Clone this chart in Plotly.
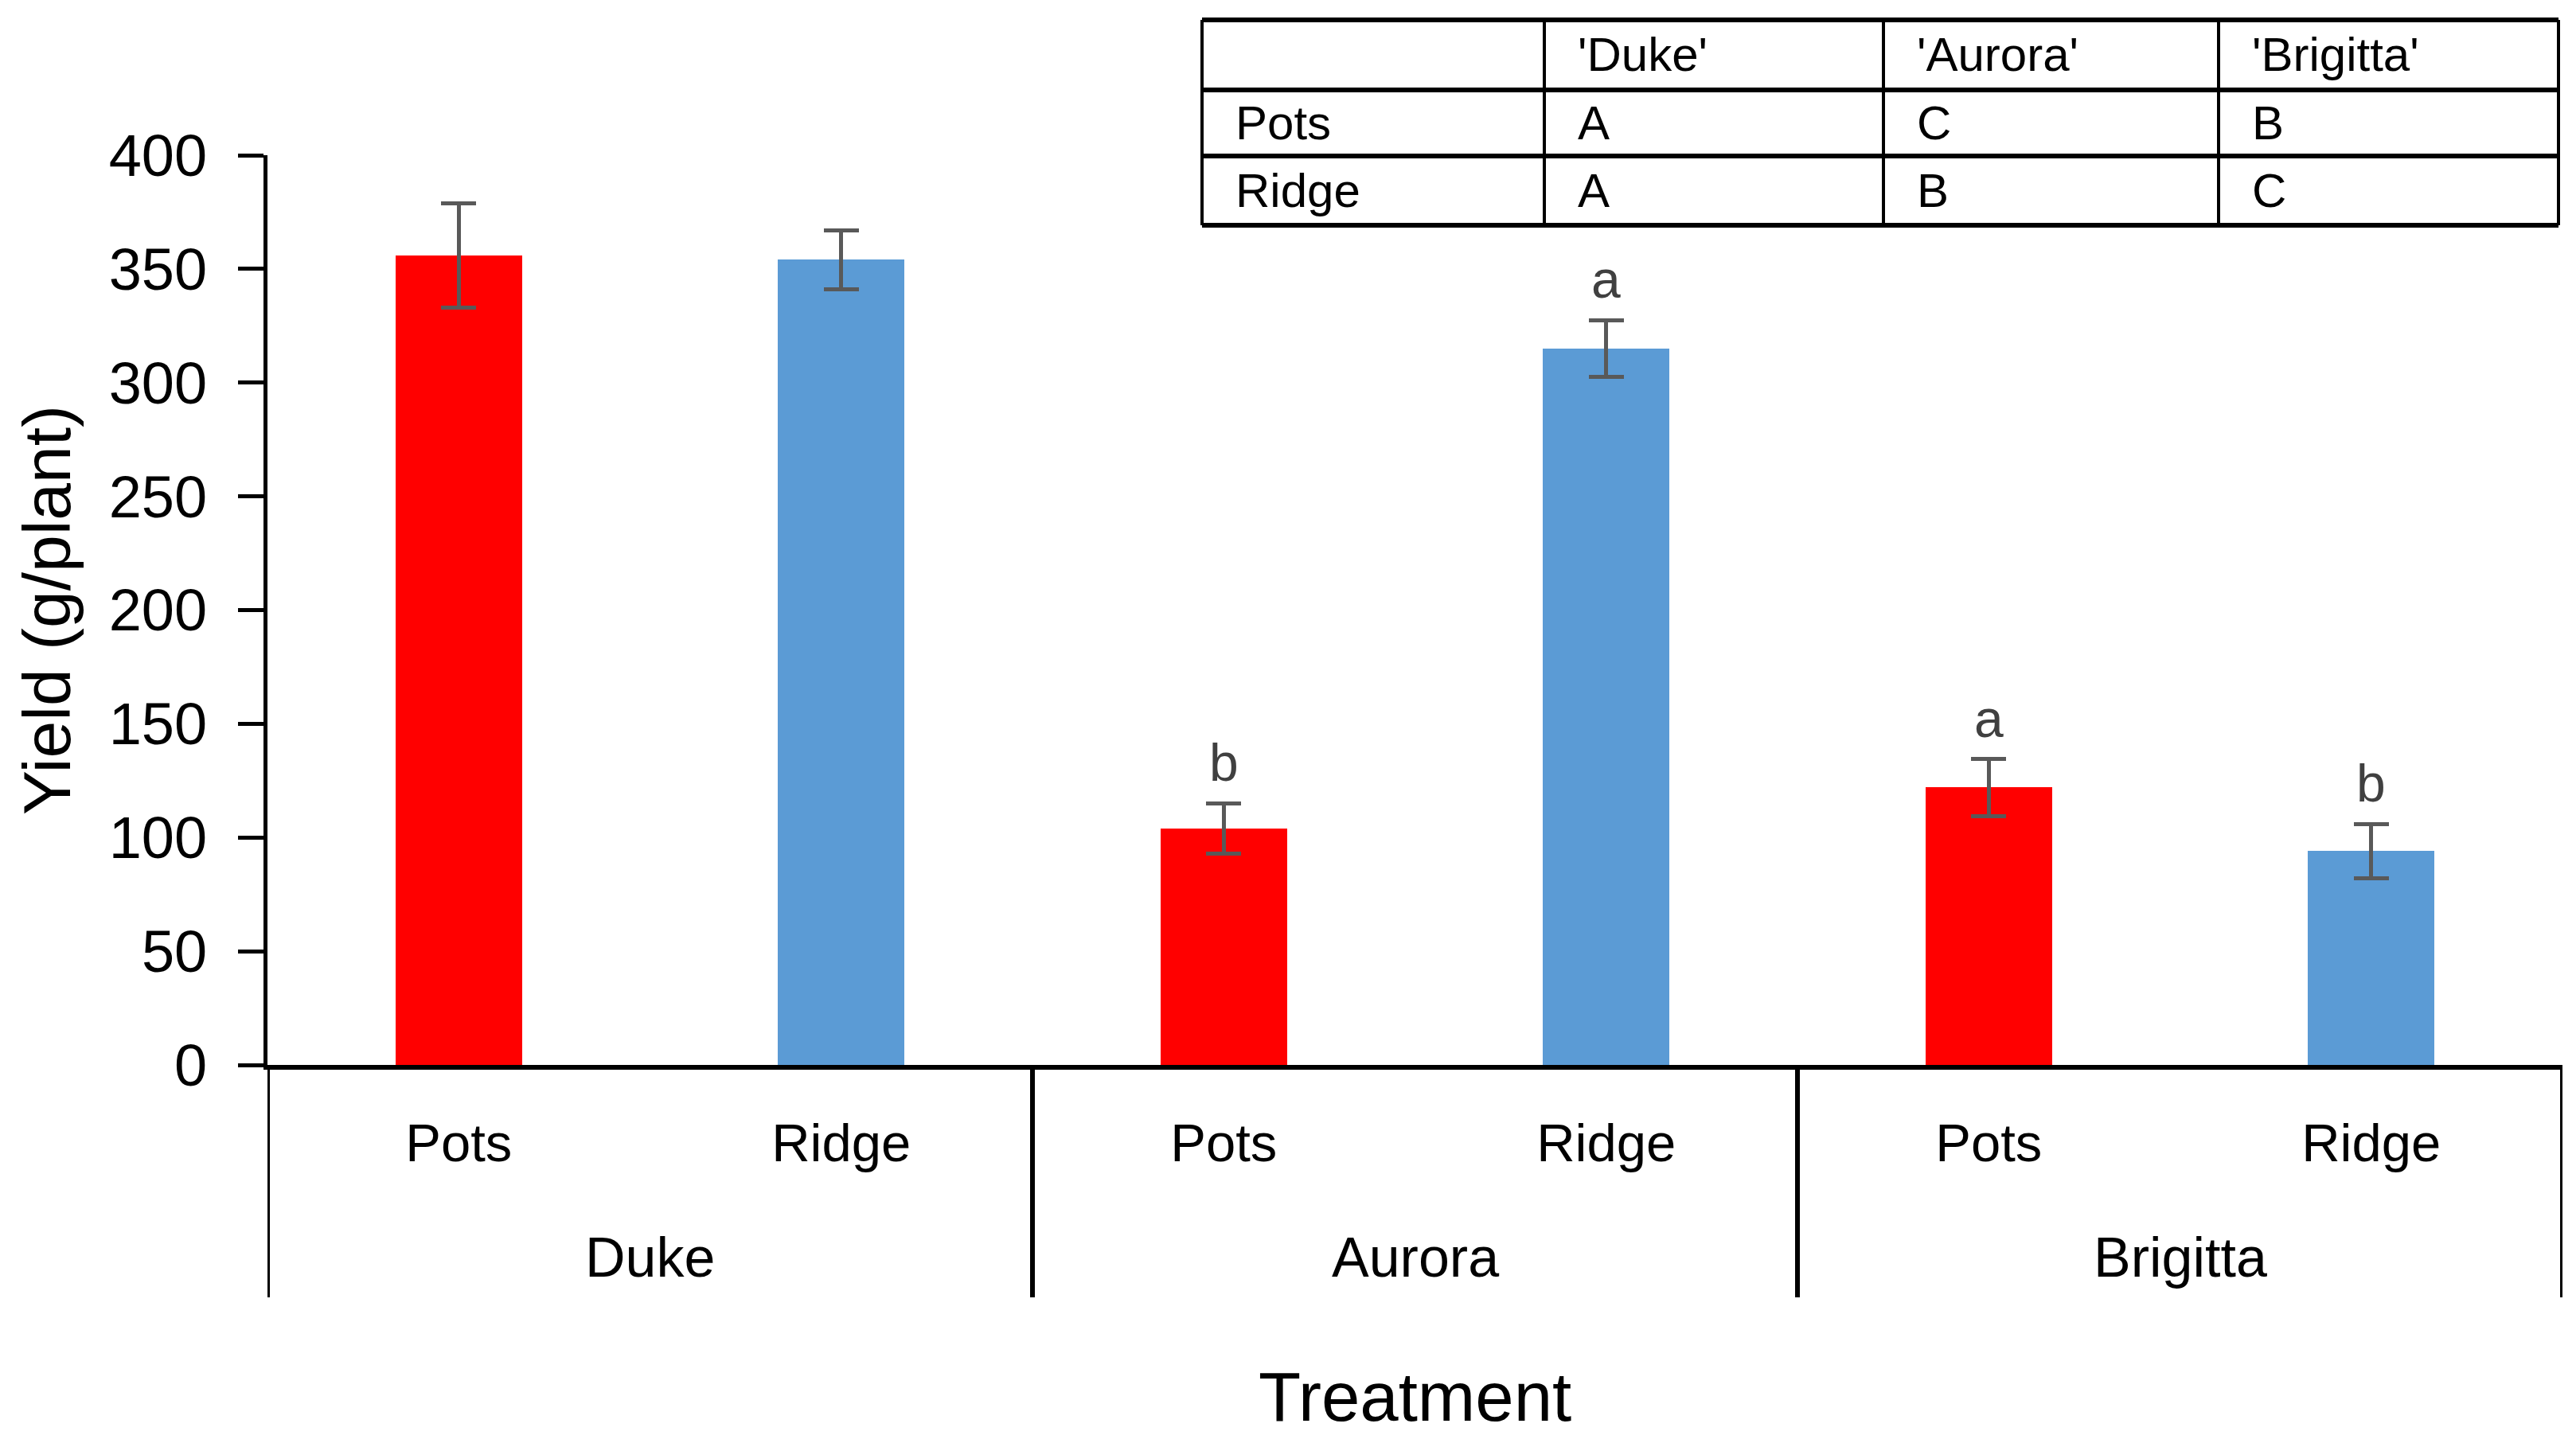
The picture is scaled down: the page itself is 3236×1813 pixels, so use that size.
import plotly.graph_objects as go

# ---- data ----
cultivars = ["Duke", "Aurora", "Brigitta"]
treatments = ["Pots", "Ridge"]
pots_yield = [356, 104, 122]
pots_err = [23, 11, 12.5]
ridge_yield = [354, 315, 94]
ridge_err = [13, 12.5, 12]
pots_letters = ["", "b", "a"]
ridge_letters = ["", "a", "b"]
y_ticks = [0, 50, 100, 150, 200, 250, 300, 350, 400]

table_header = ["", "'Duke'", "'Aurora'", "'Brigitta'"]
table_rows = ["Pots", "Ridge"]
table_letters = [["A", "C", "B"], ["A", "B", "C"]]

# ---- geometry (reference pixel space, page body has an 8px margin) ----
OFF = 8
W, H = 3236 - 2 * OFF, 1813 - 2 * OFF
AX_L, AX_R = 336 - OFF, 3219 - OFF     # plot area left/right in figure px
PL_T, PL_B = 20 - OFF, 1338 - OFF      # plot area top/bottom in figure px
ML, MR, MT, MB = AX_L, W - AX_R, PL_T, H - PL_B
PW = AX_R - AX_L
PH = PL_B - PL_T


def px_x(p):
    return (p - OFF - AX_L) / PW


def px_y(p):
    return (PL_B - (p - OFF)) / PH


FONT = "Liberation Sans, Arial, sans-serif"

n = len(cultivars)
pots_x = [2 * i for i in range(n)]
ridge_x = [2 * i + 1 for i in range(n)]
sub_vals = list(range(2 * n))
sub_text = [t for _ in cultivars for t in treatments]

fig = go.Figure()
fig.add_trace(go.Bar(
    x=pots_x, y=pots_yield, width=0.33, name="Pots",
    marker=dict(color="#FF0000", line=dict(width=0)),
    error_y=dict(type="data", array=pots_err, visible=True,
                 color="#595959", thickness=5, width=22),
))
fig.add_trace(go.Bar(
    x=ridge_x, y=ridge_yield, width=0.33, name="Ridge",
    marker=dict(color="#5B9BD5", line=dict(width=0)),
    error_y=dict(type="data", array=ridge_err, visible=True,
                 color="#595959", thickness=5, width=22),
))

annotations = []
# significance letters
for xs, ys, es, ls in [(pots_x, pots_yield, pots_err, pots_letters),
                       (ridge_x, ridge_yield, ridge_err, ridge_letters)]:
    for x, y, e, l in zip(xs, ys, es, ls):
        if l:
            annotations.append(dict(
                x=x, y=y + e, xref="x", yref="y", text=l, showarrow=False,
                yanchor="bottom", yshift=12,
                font=dict(family=FONT, size=66, color="#404040")))

# group labels
for i, c in enumerate(cultivars):
    annotations.append(dict(
        x=2 * i + 0.5, y=px_y(1580), xref="x", yref="paper", text=c,
        showarrow=False, yanchor="middle",
        font=dict(family=FONT, size=70, color="black")))

annotations.append(dict(
    x=0.5, y=px_y(1754), xref="paper", yref="paper", text="Treatment",
    showarrow=False, yanchor="middle",
    font=dict(family=FONT, size=87, color="black")))

shapes = []
# group dividers
for b in [-0.5 + 2 * i for i in range(n + 1)]:
    shapes.append(dict(type="line", xref="x", yref="paper", x0=b, x1=b,
                       y0=0, y1=px_y(1630),
                       line=dict(color="black", width=6)))

# inset table
col_px = [1510, 1940, 2366, 2787, 3214]
row_px = [25, 113, 196, 283]
for cx in col_px:
    shapes.append(dict(type="line", xref="paper", yref="paper",
                       x0=px_x(cx), x1=px_x(cx), y0=px_y(row_px[0]), y1=px_y(row_px[-1]),
                       line=dict(color="black", width=4)))
for ry in row_px:
    shapes.append(dict(type="line", xref="paper", yref="paper",
                       x0=px_x(col_px[0]), x1=px_x(col_px[-1]), y0=px_y(ry), y1=px_y(ry),
                       line=dict(color="black", width=6)))

table_grid = [table_header] + [[r] + ls for r, ls in zip(table_rows, table_letters)]
for ri, row in enumerate(table_grid):
    yc = (row_px[ri] + row_px[ri + 1]) / 2
    for ci, txt in enumerate(row):
        if not txt:
            continue
        annotations.append(dict(
            x=px_x(col_px[ci] + 40), y=px_y(yc), xref="paper", yref="paper",
            text=txt, showarrow=False, xanchor="left", yanchor="middle",
            font=dict(family=FONT, size=60, color="black")))

fig.update_layout(
    width=W, height=H,
    margin=dict(l=ML, r=MR, t=MT, b=MB, autoexpand=False),
    paper_bgcolor="white", plot_bgcolor="white",
    showlegend=False,
    bargap=0,
    annotations=annotations,
    shapes=shapes,
    xaxis=dict(
        range=[-0.5, 2 * n - 0.5], tickmode="array", tickvals=sub_vals, ticktext=sub_text,
        showline=True, linecolor="black", linewidth=6, ticks="",
        showgrid=False, zeroline=False, ticklabelstandoff=35, automargin=False,
        tickfont=dict(family=FONT, size=67, color="black"),
    ),
    yaxis=dict(
        domain=[0, px_y(195)], range=[0, 400], tickmode="array", tickvals=y_ticks,
        showline=True, linecolor="black", linewidth=5,
        ticks="outside", ticklen=32, tickwidth=5, tickcolor="black",
        showgrid=False, zeroline=False, ticklabelstandoff=24, automargin=False,
        tickfont=dict(family=FONT, size=74, color="black"),
        title=dict(text="Yield (g/plant)", standoff=22,
                   font=dict(family=FONT, size=84, color="black")),
    ),
)

fig.write_html("out.html")
